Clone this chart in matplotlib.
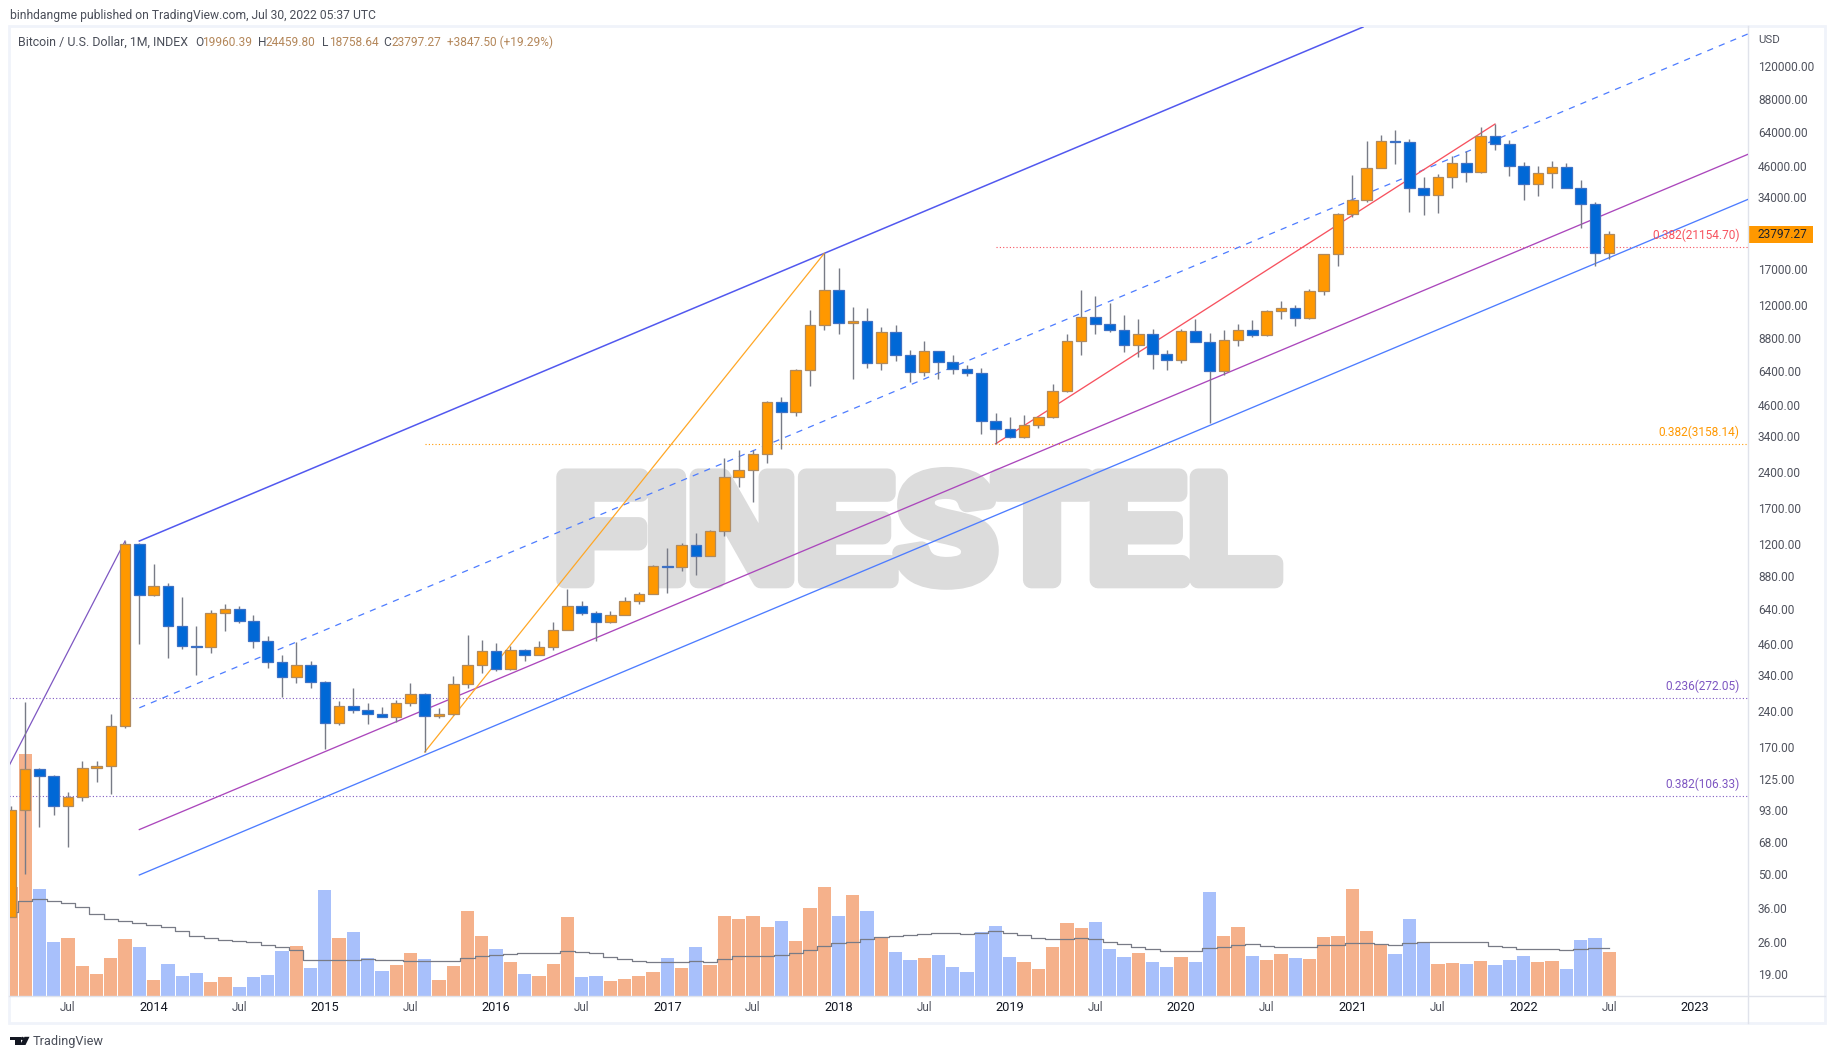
import matplotlib
matplotlib.use("Agg")
import matplotlib.patheffects as pe
import matplotlib.pyplot as plt
import numpy as np
from matplotlib.patches import Ellipse, Polygon, Rectangle
from matplotlib.ticker import FixedLocator, NullLocator

W, H = 1834, 1059
PANE_L, PANE_R, PANE_T, PANE_B = 9.5, 1748, 27, 996
FRAME_R, FRAME_B = 1825, 1023

# monthly candles, Mar 2013 (x=0) to Jul 2022 (x=112)
opens = [33, 93, 138, 129, 96, 105, 139, 141, 208, 1203,
         735, 800, 547, 451, 445, 621, 640, 574, 474, 384, 335, 376,
         318, 214, 253, 243, 234, 228, 260, 282, 229, 234, 313, 374,
         427, 360, 432, 414, 444, 526, 663, 618, 568, 605, 692, 741,
         970, 965, 1190, 1074, 1362, 2286, 2447, 2857, 4717, 4295, 6419, 9905,
         13875, 10095, 10290, 6900, 9250, 7460, 6335, 7710, 6973, 6515, 6270, 3950,
         3650, 3385, 3776, 4080, 5245, 8510, 10700, 10050, 9480, 8215, 9080, 7530,
         7110, 9345, 8455, 6400, 8590, 9440, 9040, 11330, 11670, 10660, 13730, 19630,
         28870, 33050, 44980, 58340, 57700, 37080, 34880, 41300, 47200, 43500, 61240, 56700,
         46000, 38550, 42860, 45420, 37300, 31800, 19960.39]
highs = [96, 262, 139, 130, 110, 148, 148, 234, 1238, 1210,
         992, 825, 720, 547, 635, 677, 661, 606, 496, 413, 468, 390,
         320, 265, 301, 261, 250, 268, 314, 287, 248, 337, 502, 477,
         463, 448, 437, 471, 566, 782, 696, 630, 630, 722, 757, 985,
         1160, 1213, 1342, 1375, 2747, 2975, 2975, 4790, 4950, 6470, 11470, 19816,
         17200, 11810, 11700, 9710, 9940, 7780, 8500, 7750, 7430, 6750, 6550, 4247,
         4100, 4180, 4100, 5620, 9080, 13910, 13130, 12300, 10930, 10530, 9530, 7780,
         9530, 10530, 9190, 9450, 10030, 10420, 11490, 12520, 12000, 14100, 19780, 29200,
         42180, 58500, 62000, 65000, 59480, 41300, 42440, 50400, 52900, 66750, 68900, 59000,
         47800, 45980, 48100, 47330, 40070, 32400, 24459.80]
lows = [33, 50, 79, 88, 65, 101, 121, 108, 205, 457,
        730, 401, 437, 340, 420, 521, 561, 441, 364, 274, 314, 301,
        166, 210, 236, 212, 226, 216, 253, 162, 224, 232, 300, 346,
        354, 358, 390, 412, 433, 524, 606, 471, 560, 605, 677, 741,
        752, 929, 892, 1070, 1300, 2090, 1808, 2635, 3000, 4143, 5530, 9470,
        9100, 5900, 6580, 6440, 7040, 5730, 6070, 5920, 6190, 6090, 3480, 3145,
        3350, 3340, 3680, 4050, 5200, 7440, 9100, 9300, 7655, 7310, 6500, 6440,
        6900, 8400, 3870, 6150, 8110, 8870, 8950, 10540, 9840, 10500, 13300, 17590,
        28060, 32350, 44900, 47050, 29620, 28750, 29350, 37200, 39500, 43000, 53700, 41880,
        33250, 34540, 37300, 37100, 25340, 17600, 18758.64]
closes = [93, 138, 129, 96, 105, 139, 141, 208, 1203, 735,
          800, 547, 451, 445, 621, 640, 574, 474, 384, 335, 376, 318,
          214, 253, 243, 234, 228, 260, 282, 229, 234, 313, 374, 427,
          360, 432, 414, 444, 526, 663, 618, 568, 605, 692, 741, 970,
          965, 1190, 1074, 1362, 2286, 2447, 2857, 4717, 4295, 6419, 9905, 13875,
          10095, 10290, 6900, 9250, 7460, 6335, 7710, 6973, 6515, 6270, 3950, 3650,
          3385, 3776, 4080, 5245, 8510, 10700, 10050, 9480, 8215, 9080, 7530, 7110,
          9345, 8455, 6400, 8590, 9440, 9040, 11330, 11670, 10660, 13730, 19630, 28870,
          33050, 44980, 58340, 57700, 37080, 34880, 41300, 47200, 43500, 61240, 56700, 46000,
          38550, 42860, 45420, 37300, 31800, 19960.39, 23797.27]

# volume pane has no printed scale, so these are relative heights
volumes = [326, 726, 321, 162, 174, 90, 66, 114, 171, 147,
           48, 96, 60, 69, 42, 57, 27, 57, 63, 135, 150, 84,
           318, 174, 192, 114, 75, 93, 129, 111, 48, 90, 255, 180,
           141, 102, 66, 60, 96, 237, 57, 60, 45, 51, 60, 72,
           114, 84, 147, 93, 240, 231, 240, 207, 225, 165, 264, 327,
           240, 303, 255, 175, 132, 108, 114, 123, 87, 72, 192, 210,
           117, 102, 81, 147, 219, 204, 222, 141, 117, 129, 102, 87,
           117, 102, 312, 180, 207, 120, 108, 126, 114, 111, 177, 180,
           321, 195, 153, 126, 231, 162, 96, 99, 96, 105, 93, 108,
           120, 102, 105, 81, 168, 174, 132]
volume_ma = [253, 284, 290, 284, 278, 266, 245, 230, 224, 218,
             212, 206, 194, 179, 173, 167, 164, 161, 152, 146, 137, 107,
             107, 107, 107, 110, 107, 107, 105, 104, 104, 104, 113, 119,
             122, 125, 128, 128, 128, 134, 131, 128, 116, 110, 104, 101,
             101, 101, 104, 101, 110, 119, 119, 119, 122, 128, 137, 149,
             158, 161, 170, 176, 179, 182, 185, 188, 188, 185, 188, 194,
             188, 182, 173, 170, 170, 173, 170, 161, 155, 146, 140, 134,
             134, 134, 143, 146, 152, 155, 149, 146, 146, 146, 152, 152,
             158, 158, 155, 152, 158, 161, 161, 161, 161, 161, 149, 146,
             140, 140, 140, 137, 140, 143, 143]

price_ticks = [120000, 88000, 64000, 46000, 34000, 17000, 12000, 8800, 6400, 4600,
               3400, 2400, 1700, 1200, 880, 640, 460, 340, 240, 170, 125, 93, 68,
               50, 36, 26, 19]
time_ticks = [4, 10, 16, 22, 28, 34, 40, 46, 52, 58, 64, 70, 76, 82, 88, 94, 100,
              106, 112, 118]
time_labels = ["Jul", "2014", "Jul", "2015", "Jul", "2016", "Jul", "2017", "Jul", "2018",
               "Jul", "2019", "Jul", "2020", "Jul", "2021", "Jul", "2022", "Jul", "2023"]
change_label = "+3847.50 (+19.29%)"

# drawings: (x0, price0, x1, price1)
channel_top = (9, 1238, 94.75, 175500)
channel_mid = (9, 248, 121.73, 164300)
channel_low = (9, 76.7, 121.73, 51480)
channel_base = (9, 49.5, 121.73, 33340)
swing_purple = (-0.1, 143, 8, 1238)
swing_orange = (29, 162, 57, 19816)
swing_red = (69, 3158.14, 104, 68900)

# fib levels: level, label, colour, start x
fib_levels = [
    (272.05, "0.236(272.05)", "#7e57c2", -0.1),
    (106.33, "0.382(106.33)", "#7e57c2", -0.1),
    (3158.14, "0.382(3158.14)", "#ff9800", 29),
    (21154.70, "0.382(21154.70)", "#f7525f", 69),
]

UP = "#ff9800"
DOWN = "#0068d6"
UP_EDGE = "#b08a5e"
DOWN_EDGE = "#3e71c4"
WICK = "#787b86"
TEXT = "#50535e"

plt.rcParams["font.family"] = ["Roboto", "DejaVu Sans"]

fig = plt.figure(figsize=(W / 100, H / 100), dpi=100, facecolor="white")


def px_x(x):
    return x / W


def px_y(y):
    return 1 - y / H


def px_text(x, y, s, **kw):
    kw.setdefault("va", "center")
    kw.setdefault("fontsize", 8.4)
    kw.setdefault("color", TEXT)
    return fig.text(px_x(x), px_y(y), s, **kw)


rect = [px_x(PANE_L), px_y(PANE_B), px_x(PANE_R - PANE_L), (PANE_B - PANE_T) / H]
ax_vol = fig.add_axes(rect, zorder=1)
ax = fig.add_axes(rect, zorder=2, facecolor="none")

xlim = (-0.098, 121.73)
x = np.arange(len(closes))
o = np.array(opens, dtype=float)
h = np.array(highs, dtype=float)
l = np.array(lows, dtype=float)
c = np.array(closes, dtype=float)
is_up = c >= o

# volume
ax_vol.set_xlim(xlim)
ax_vol.set_ylim(0, (PANE_B - PANE_T) * 3)
ax_vol.axis("off")
ax_vol.bar(x, volumes, width=0.93, color=np.where(is_up, "#f5b18b", "#a8c0fb"), linewidth=0)
ax_vol.step(x, volume_ma, where="mid", color=WICK, lw=0.9, zorder=3)

fig.text(
    px_x(917), px_y(541), "FINESTEL", ha="center", va="center", fontsize=108,
    family=["Liberation Sans Narrow", "Liberation Sans"], weight="bold", color="#dcdcdc",
    zorder=0,
    path_effects=[pe.withStroke(linewidth=12, foreground="#dcdcdc")],
)

# price pane
ax.set_xlim(xlim)
ax.set_yscale("log")
ax.set_ylim(15.42, 175600)
for s in ax.spines.values():
    s.set_visible(False)

for lv, label, colour, start in fib_levels:
    ax.plot([start, xlim[1]], [lv, lv], color=colour, lw=0.8, ls=(0, (1, 2)), zorder=1)

for seg, colour, lw, ls in [
    (channel_top, "#5258ef", 1.1, "-"),
    (channel_mid, "#4d7cff", 0.9, (0, (5, 5))),
    (channel_low, "#ab47bc", 0.95, "-"),
    (channel_base, "#4d7cff", 0.95, "-"),
    (swing_purple, "#7e57c2", 0.9, "-"),
    (swing_orange, "#ffa726", 0.9, "-"),
    (swing_red, "#f7525f", 0.95, "-"),
]:
    ax.plot([seg[0], seg[2]], [seg[1], seg[3]], color=colour, lw=lw, ls=ls, zorder=2)

ax.vlines(x, l, h, color=WICK, lw=1.0, zorder=3)
ax.bar(
    x, np.abs(c - o), bottom=np.minimum(o, c), width=0.74,
    color=np.where(is_up, UP, DOWN), edgecolor=np.where(is_up, UP_EDGE, DOWN_EDGE),
    linewidth=0.9, zorder=4,
)

ax.yaxis.tick_right()
ax.yaxis.set_major_locator(FixedLocator(price_ticks))
ax.yaxis.set_minor_locator(NullLocator())
ax.set_yticklabels([f"{v:.2f}" for v in price_ticks])
ax.tick_params(axis="y", length=0, pad=7.2, labelsize=8.6, labelcolor=TEXT)
ax.set_xticks(time_ticks)
ax.set_xticklabels(time_labels)
ax.tick_params(axis="x", length=0, pad=3.8, labelsize=9)
for lab in ax.get_xticklabels():
    if lab.get_text() == "Jul":
        lab.set_color(TEXT)
        lab.set_fontsize(8.4)
    else:
        lab.set_color("#131722")
        lab.set_fontsize(9.2)

for lv, label, colour, start in fib_levels:
    ax.annotate(label, xy=(1, lv), xycoords=("axes fraction", "data"), xytext=(-6, 3.4),
                textcoords="offset points", ha="right", va="bottom", color=colour, fontsize=8.6)

# frame and axis separators
fig.add_artist(Rectangle((px_x(9), px_y(FRAME_B)), px_x(FRAME_R - 9), (FRAME_B - 26) / H,
                         transform=fig.transFigure, fill=False, ec="#f0f3fa", lw=2))
fig.add_artist(plt.Line2D([px_x(9), px_x(FRAME_R)], [px_y(PANE_B)] * 2, color="#e0e3eb", lw=1))
fig.add_artist(plt.Line2D([px_x(PANE_R)] * 2, [px_y(26), px_y(FRAME_B)], color="#e0e3eb", lw=1))

# last price tag
fig.add_artist(Rectangle((px_x(PANE_R), px_y(242.7)), px_x(64.5), 16.7 / H,
                         transform=fig.transFigure, fc=UP, ec="none"))
px_text(1758, 234.4, f"{closes[-1]:.2f}", color="#1e222d", fontsize=8.6, zorder=10)
px_text(1758, 40, "USD", fontsize=8.2)

# header
px_text(10, 15, "binhdangme published on TradingView.com, Jul 30, 2022 05:37 UTC", fontsize=8.75, color="#4a4e59")
px_text(18, 42, "Bitcoin / U.S. Dollar, 1M, INDEX", fontsize=8.95, color="#4a4e59")
VAL = "#b4875a"
for xp, key, xv, val in [
    (195.7, "O", 202.5, opens[-1]),
    (258, "H", 265.7, highs[-1]),
    (322, "L", 329, lows[-1]),
    (383.5, "C", 391.5, closes[-1]),
]:
    px_text(xp, 42, key, fontsize=8.6, color="#4a4e59")
    px_text(xv, 42, f"{val:.2f}", fontsize=8.6, color=VAL)
px_text(446.8, 42, change_label, fontsize=8.6, color=VAL)

# footer logo
for pts in [
    [[10, 1036.8], [20.5, 1036.8], [20.5, 1045], [14.5, 1045], [14.5, 1040.3], [10, 1040.3]],
    [[24.5, 1036.8], [29.5, 1036.8], [25.5, 1045], [19.8, 1045]],
]:
    pts = np.array(pts)
    fig.add_artist(Polygon(np.column_stack([px_x(pts[:, 0]), px_y(pts[:, 1])]),
                           transform=fig.transFigure, fc="#131722", ec="none"))
fig.add_artist(Ellipse((px_x(22.4), px_y(1038.5)), 3.4 / W, 3.4 / H,
                       transform=fig.transFigure, fc="#131722", ec="none"))
px_text(33, 1041, "TradingView", fontsize=9.2, color="#4a4e59")

fig.savefig("out.png", dpi=100)
